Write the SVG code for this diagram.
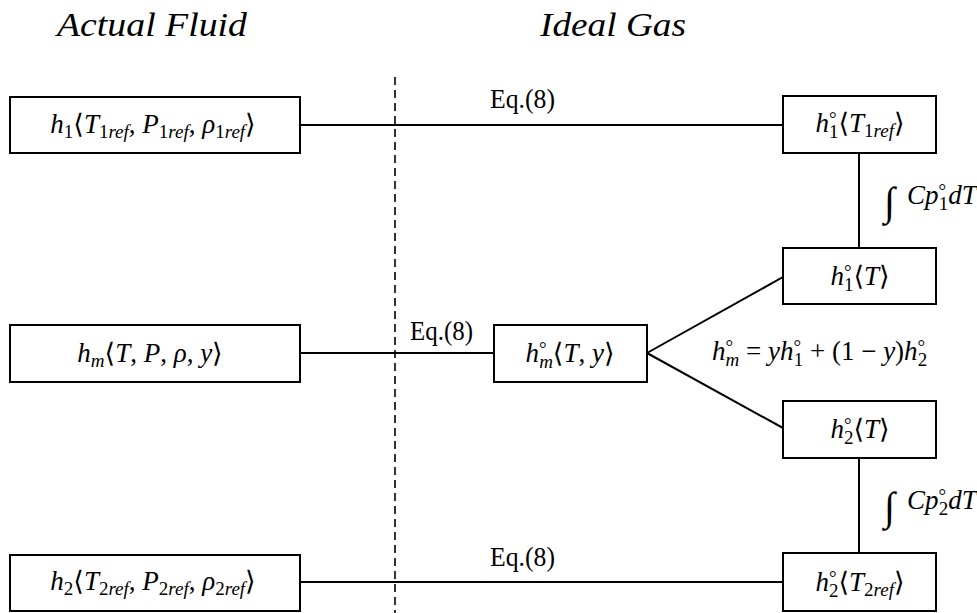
<svg xmlns="http://www.w3.org/2000/svg" width="977" height="613" viewBox="0 0 977 613">
<style>
.bg{fill:#fff}
.box{fill:#fff;stroke:#000;stroke-width:2}
.ln{stroke:#000;stroke-width:2;fill:none}
.dash{stroke:#000;stroke-width:1.6;stroke-dasharray:8 5;fill:none}
.t{font-family:"Liberation Serif","DejaVu Serif","DejaVu Sans",serif;font-size:27px;fill:#000}
.ttl{font-family:"Liberation Serif","DejaVu Serif",serif;font-size:34px;font-style:italic;fill:#000}
.i{font-style:italic}
.s{font-size:19px}
.o{font-size:19px}
.int{font-size:40px}
</style>
<rect class="bg" x="0" y="0" width="977" height="613"/>
<g id="titles">
<text class="ttl" x="57" y="36" textLength="190" lengthAdjust="spacingAndGlyphs">Actual Fluid</text>
<text class="ttl" x="540" y="36" textLength="146" lengthAdjust="spacingAndGlyphs">Ideal Gas</text>
</g>
<g id="divider">
<line class="dash" x1="395" y1="77" x2="395" y2="613"/>
</g>
<g id="connectors">
<line class="ln" x1="300" y1="125" x2="783" y2="125"/>
<line class="ln" x1="300" y1="353" x2="494" y2="353"/>
<line class="ln" x1="300" y1="582" x2="783" y2="582"/>
<line class="ln" x1="859" y1="153" x2="859" y2="248"/>
<line class="ln" x1="859" y1="458" x2="859" y2="553"/>
<line class="ln" x1="647" y1="353" x2="783" y2="277"/>
<line class="ln" x1="647" y1="353" x2="783" y2="428"/>
<text class="t" x="490" y="108" textLength="65" lengthAdjust="spacingAndGlyphs">Eq.(8)</text>
<text class="t" x="410" y="340" textLength="63" lengthAdjust="spacingAndGlyphs">Eq.(8)</text>
<text class="t" x="490" y="566" textLength="65" lengthAdjust="spacingAndGlyphs">Eq.(8)</text>
<text class="t int" x="884" y="215">∫</text>
<text class="t" x="907" y="204"><tspan class="i">Cp</tspan><tspan class="o" dy="-7">°</tspan><tspan class="s" dx="-7.5" dy="13">1</tspan><tspan class="i" dy="-6">dT</tspan></text>
<text class="t int" x="884" y="520">∫</text>
<text class="t" x="907" y="509"><tspan class="i">Cp</tspan><tspan class="o" dy="-7">°</tspan><tspan class="s" dx="-7.5" dy="13">2</tspan><tspan class="i" dy="-6">dT</tspan></text>
<text class="t" x="712" y="360"><tspan class="i">h</tspan><tspan class="o" dy="-7">°</tspan><tspan class="s i" dx="-7.5" dy="13">m</tspan><tspan dy="-6"> = </tspan><tspan class="i">yh</tspan><tspan class="o" dy="-7">°</tspan><tspan class="s" dx="-7.5" dy="13">1</tspan><tspan dy="-6"> + (1 − </tspan><tspan class="i">y</tspan><tspan>)</tspan><tspan class="i">h</tspan><tspan class="o" dy="-7">°</tspan><tspan class="s" dx="-7.5" dy="13">2</tspan></text>
</g>
<g id="n1">
<rect class="box" x="10" y="97" width="290" height="56"/>
<text class="t" x="153" y="133" text-anchor="middle"><tspan class="i">h</tspan><tspan class="s" dy="5">1</tspan><tspan dy="-5">⟨</tspan><tspan class="i">T</tspan><tspan class="s" dy="5">1<tspan class="i">ref</tspan></tspan><tspan dy="-5">, </tspan><tspan class="i">P</tspan><tspan class="s" dy="5">1<tspan class="i">ref</tspan></tspan><tspan dy="-5">, </tspan><tspan class="i">ρ</tspan><tspan class="s" dy="5">1<tspan class="i">ref</tspan></tspan><tspan dy="-5">⟩</tspan></text>
</g>
<g id="nm">
<rect class="box" x="10" y="325" width="290" height="57"/>
<text class="t" x="150" y="362" text-anchor="middle"><tspan class="i">h</tspan><tspan class="s i" dy="5">m</tspan><tspan dy="-5">⟨</tspan><tspan class="i">T</tspan><tspan>, </tspan><tspan class="i">P</tspan><tspan>, </tspan><tspan class="i">ρ</tspan><tspan>, </tspan><tspan class="i">y</tspan><tspan>⟩</tspan></text>
</g>
<g id="n2">
<rect class="box" x="10" y="555" width="290" height="56"/>
<text class="t" x="153" y="590" text-anchor="middle"><tspan class="i">h</tspan><tspan class="s" dy="5">2</tspan><tspan dy="-5">⟨</tspan><tspan class="i">T</tspan><tspan class="s" dy="5">2<tspan class="i">ref</tspan></tspan><tspan dy="-5">, </tspan><tspan class="i">P</tspan><tspan class="s" dy="5">2<tspan class="i">ref</tspan></tspan><tspan dy="-5">, </tspan><tspan class="i">ρ</tspan><tspan class="s" dy="5">2<tspan class="i">ref</tspan></tspan><tspan dy="-5">⟩</tspan></text>
</g>
<g id="nmi">
<rect class="box" x="494" y="325" width="153" height="57"/>
<text class="t" x="570" y="362" text-anchor="middle"><tspan class="i">h</tspan><tspan class="o" dy="-7">°</tspan><tspan class="s i" dx="-7.5" dy="13">m</tspan><tspan dy="-6">⟨</tspan><tspan class="i">T</tspan><tspan>, </tspan><tspan class="i">y</tspan><tspan>⟩</tspan></text>
</g>
<g id="r1">
<rect class="box" x="783" y="96" width="153" height="57"/>
<text class="t" x="860" y="132" text-anchor="middle"><tspan class="i">h</tspan><tspan class="o" dy="-7">°</tspan><tspan class="s" dx="-7.5" dy="13">1</tspan><tspan dy="-6">⟨</tspan><tspan class="i">T</tspan><tspan class="s" dy="5">1<tspan class="i">ref</tspan></tspan><tspan dy="-5">⟩</tspan></text>
</g>
<g id="r2">
<rect class="box" x="783" y="248" width="153" height="56"/>
<text class="t" x="860" y="285" text-anchor="middle"><tspan class="i">h</tspan><tspan class="o" dy="-7">°</tspan><tspan class="s" dx="-7.5" dy="13">1</tspan><tspan dy="-6">⟨</tspan><tspan class="i">T</tspan><tspan>⟩</tspan></text>
</g>
<g id="r3">
<rect class="box" x="783" y="401" width="153" height="57"/>
<text class="t" x="860" y="438" text-anchor="middle"><tspan class="i">h</tspan><tspan class="o" dy="-7">°</tspan><tspan class="s" dx="-7.5" dy="13">2</tspan><tspan dy="-6">⟨</tspan><tspan class="i">T</tspan><tspan>⟩</tspan></text>
</g>
<g id="r4">
<rect class="box" x="783" y="553" width="153" height="58"/>
<text class="t" x="860" y="591" text-anchor="middle"><tspan class="i">h</tspan><tspan class="o" dy="-7">°</tspan><tspan class="s" dx="-7.5" dy="13">2</tspan><tspan dy="-6">⟨</tspan><tspan class="i">T</tspan><tspan class="s" dy="5">2<tspan class="i">ref</tspan></tspan><tspan dy="-5">⟩</tspan></text>
</g>
</svg>
